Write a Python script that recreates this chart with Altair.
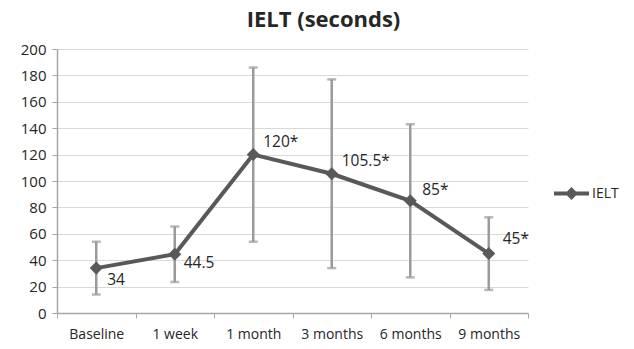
import altair as alt
import pandas as pd

categories = ["Baseline", "1 week", "1 month", "3 months", "6 months", "9 months"]
values = [34, 44.5, 120, 105.5, 85, 45]
errors = [20, 21, 66, 71.5, 58, 27.5]
labels = ["34", "44.5", "120*", "105.5*", "85*", "45*"]
series = ["IELT"] * 6

df = pd.DataFrame({
    "cat": categories,
    "val": values,
    "err": errors,
    "label": labels,
    "series": series,
})

FONT = "Open Sans"
LINE = "#595959"
ERR = "#9a9a9a"
TXT = "#262626"

xaxis = alt.Axis(labelAngle=0, tickBand="extent", tickSize=5, tickColor="#a6a6a6",
                 domainColor="#a6a6a6", domainWidth=1.5, labelFontSize=14,
                 labelColor=TXT, labelFont=FONT, labelPadding=9, grid=False)
yaxis = alt.Axis(values=list(range(0, 201, 20)), tickSize=5, tickColor="#a6a6a6",
                 domainColor="#a6a6a6", domainWidth=1.5, gridColor="#d9d9d9",
                 gridWidth=1, labelFontSize=15, labelColor=TXT,
                 labelFont=FONT, labelPadding=6, labelOverlap=False)
yscale = alt.Scale(domain=[0, 200], nice=False)

x = alt.X("cat:N", sort=categories, title=None,
          scale=alt.Scale(paddingInner=0, paddingOuter=0), axis=xaxis)
y = alt.Y("val:Q", title=None, scale=yscale, axis=yaxis)

base = alt.Chart(df).transform_calculate(
    lo="datum.val - datum.err", hi="datum.val + datum.err"
)

err_rule = base.mark_rule(color=ERR, strokeWidth=2.5).encode(
    x=x, y=alt.Y("lo:Q", title=None, scale=yscale, axis=yaxis), y2="hi:Q")
cap_hi = base.mark_tick(color=ERR, thickness=2.5, size=9, orient="horizontal").encode(
    x=x, y=alt.Y("hi:Q", title=None, scale=yscale, axis=yaxis))
cap_lo = base.mark_tick(color=ERR, thickness=2.5, size=9, orient="horizontal").encode(
    x=x, y=alt.Y("lo:Q", title=None, scale=yscale, axis=yaxis))

line = base.mark_line(color=LINE, strokeWidth=4).encode(x=x, y=y)

legend_path = ("M-1,-0.11L1,-0.11L1,0.11L-1,0.11Z "
               "M0,-0.37L0.37,0L0,0.37L-0.37,0Z")
points = base.mark_point(shape="diamond", filled=True, size=170, opacity=1).encode(
    x=x, y=y,
    color=alt.Color("series:N", scale=alt.Scale(domain=["IELT"], range=[LINE]),
                    legend=alt.Legend(title=None, orient="none", legendX=497, legendY=127,
                                      symbolType=legend_path, symbolSize=1225,
                                      symbolStrokeWidth=0, symbolFillColor=LINE,
                                      labelFontSize=14, labelFont=FONT,
                                      labelColor=TXT, labelOffset=3, padding=0)))

offsets = [(11, 12), (9, 9), (10, -13), (10, -13), (12, -11), (14, -15)]
texts = []
for cat, (dx, dy) in zip(categories, offsets):
    texts.append(
        base.transform_filter(alt.datum.cat == cat)
        .mark_text(align="left", baseline="middle", dx=dx, dy=dy,
                   fontSize=15.5, font=FONT, color=TXT)
        .encode(x=x, y=y, text="label:N")
    )

chart = alt.layer(err_rule, cap_hi, cap_lo, line, points, *texts).properties(
    width=471, height=264,
    title=alt.TitleParams("IELT (seconds)", font=FONT, fontSize=22, fontWeight="bold",
                          color=TXT, anchor="middle", dx=31, offset=10),
    autosize=alt.AutoSizeParams(type="none"),
    padding={"left": 49, "top": 41, "right": 98, "bottom": 28},
).configure_view(stroke=None)

chart.save("out.html", embed_options={"renderer": "svg", "actions": False})
